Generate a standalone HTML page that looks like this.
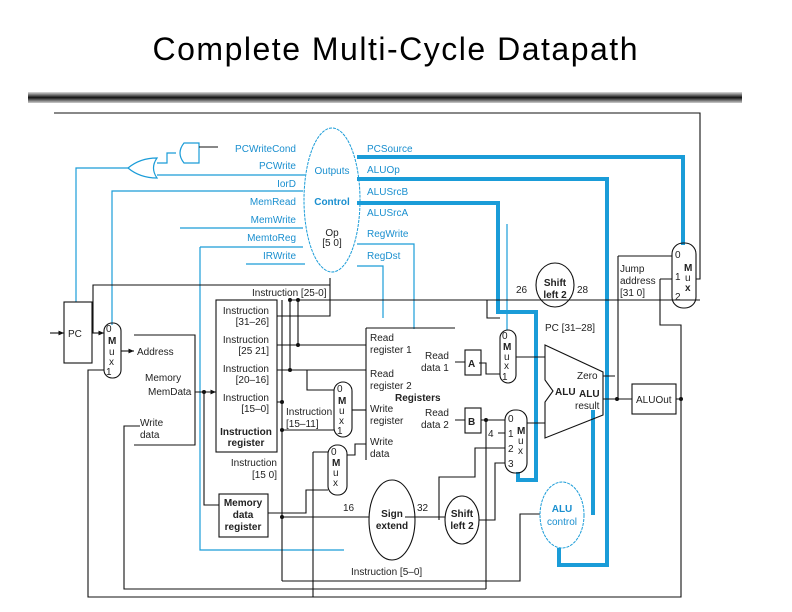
<!DOCTYPE html>
<html><head><meta charset="utf-8"><style>
html,body{margin:0;padding:0;background:#fff;}
svg{display:block;font-family:"Liberation Sans",Arial,sans-serif;}
.b{stroke:#1a9cd8;fill:none;stroke-width:1.2}
.bt{stroke:#1a9cd8;fill:none;stroke-width:4}
.k{stroke:#111;fill:none;stroke-width:1.1}
.bl{fill:#1a8fcf;font-size:10px}
.t{fill:#222;font-size:10px}
.tb{fill:#222;font-size:10px;font-weight:bold}
</style></head><body>
<svg width="792" height="612" viewBox="0 0 792 612" xmlns="http://www.w3.org/2000/svg">
<defs>
<linearGradient id="g" x1="0" y1="0" x2="0" y2="1">
<stop offset="0" stop-color="#ddd"/><stop offset="0.5" stop-color="#111"/><stop offset="1" stop-color="#ccc"/></linearGradient>
<marker id="a" markerWidth="6" markerHeight="6" refX="5" refY="3" orient="auto"><path d="M0,0.8 L5,3 L0,5.2z" fill="#111"/></marker>
</defs>
<text x="395" y="60" text-anchor="middle" font-size="32" textLength="485" fill="#000">Complete Multi-Cycle Datapath</text>
<rect x="28" y="92" width="714" height="11" fill="url(#g)"/>

<path class="k" d="M54,113 H700 V279 H696"/>
<ellipse cx="332" cy="200" rx="28" ry="72" fill="#fff" stroke="#1a9cd8" stroke-width="1" stroke-dasharray="3,1"/>
<text x="332" y="174" text-anchor="middle" class="bl">Outputs</text>
<text x="332" y="205" text-anchor="middle" class="bl" font-weight="bold">Control</text>
<text x="332" y="236" text-anchor="middle" class="t">Op</text>
<text x="332" y="246" text-anchor="middle" class="t">[5 0]</text>
<g class="bl" text-anchor="end">
<text x="296" y="152">PCWriteCond</text><text x="296" y="169">PCWrite</text><text x="296" y="187">IorD</text>
<text x="296" y="205">MemRead</text><text x="296" y="223">MemWrite</text><text x="296" y="241">MemtoReg</text><text x="296" y="259">IRWrite</text>
</g>
<g class="bl"><text x="367" y="152">PCSource</text><text x="367" y="173">ALUOp</text><text x="367" y="195">ALUSrcB</text>
<text x="367" y="216">ALUSrcA</text><text x="367" y="237">RegWrite</text><text x="367" y="259">RegDst</text></g>
<path class="b" d="M184,143 H199 V163 H184 Q176,153 184,143Z"/>
<path class="k" d="M199,147 H218"/>
<path class="b" d="M128,168 Q140,158 157,158 Q150,168 157,178 Q140,178 128,168Z"/>
<path class="b" d="M157,163 H167 V153 H176"/>
<path class="b" d="M157,175 H305 M128,168 H76 V302 M112,325 V191 H303 M180,228 H303 M200,247 H303 M200,247 V550 H344 M246,264 H305"/>
<path class="bt" d="M357,157 H683 V245 M357,179 H607 V565 H559 V548 M357,203 H498 V312 H536 V480 H518 V472 M593,515 V410"/>
<path class="b" d="M507,224 V330 M357,244 H414 V329 M357,266 H383 V318"/>
<rect x="64" y="302" width="28" height="61" fill="#fff" class="k"/>
<text x="68" y="337" class="t">PC</text>
<path class="k" d="M50,333 H64" marker-end="url(#a)"/>
<path class="k" d="M92,333 H104" marker-end="url(#a)"/>
<rect x="104" y="323" width="17" height="55" rx="8" fill="#fff" class="k"/>
<text x="106" y="332" class="t" font-size="8">0</text><text x="108" y="344" class="tb">M</text><text x="109" y="355" class="t">u</text><text x="109" y="365" class="t">x</text><text x="106" y="375" class="t" font-size="8">1</text>
<path class="k" d="M121,351 H134" marker-end="url(#a)"/>
<path class="k" d="M134,335 H195 V445 H134"/>
<text x="137" y="355" class="t">Address</text><text x="145" y="381" class="t">Memory</text><text x="148" y="395" class="t">MemData</text>
<text x="140" y="426" class="t">Write</text><text x="140" y="438" class="t">data</text>
<rect x="216" y="300" width="61" height="152" fill="#fff" class="k"/>
<g class="t" text-anchor="end"><text x="269" y="314">Instruction</text><text x="269" y="325">[31–26]</text>
<text x="269" y="343">Instruction</text><text x="269" y="354">[25 21]</text>
<text x="269" y="372">Instruction</text><text x="269" y="383">[20–16]</text>
<text x="269" y="401">Instruction</text><text x="269" y="412">[15–0]</text></g>
<text x="246" y="435" class="tb" text-anchor="middle">Instruction</text><text x="246" y="446" class="tb" text-anchor="middle">register</text>
<text x="277" y="466" class="t" text-anchor="end">Instruction</text><text x="277" y="478" class="t" text-anchor="end">[15 0]</text>
<rect x="219" y="494" width="49" height="43" fill="#fff" class="k"/>
<text x="243" y="506" class="tb" text-anchor="middle">Memory</text><text x="243" y="518" class="tb" text-anchor="middle">data</text><text x="243" y="530" class="tb" text-anchor="middle">register</text>
<path class="k" d="M204,392 V505 H219 M195,392 H216" marker-end="url(#a)"/>
<circle cx="204" cy="392" r="2" fill="#111"/>
<path class="k" d="M277,316 H330 V278 M93,333 V285 H330 M290,300 H700" />
<text x="252" y="296" class="t">Instruction [25-0]</text>
<path class="k" d="M282,300 V581 M290,300 V370 M298,300 V345 M277,345 H366 M277,370 H366 M307,370 V390 H334 M277,402 H282 M282,430 H334 M268,513 H306 V490 H328 M282,517 H369"/>
<circle cx="282" cy="402" r="2" fill="#111"/><circle cx="282" cy="430" r="2" fill="#111"/><circle cx="282" cy="517" r="2" fill="#111"/>
<circle cx="290" cy="300" r="2" fill="#111"/><circle cx="298" cy="300" r="2" fill="#111"/><circle cx="298" cy="345" r="2" fill="#111"/><circle cx="290" cy="370" r="2" fill="#111"/>
<text x="286" y="415" class="t">Instruction</text><text x="286" y="427" class="t">[15–11]</text>
<rect x="334" y="382" width="18" height="55" rx="9" fill="#fff" class="k"/>
<text x="337" y="392" class="t" font-size="8">0</text><text x="338" y="404" class="tb">M</text><text x="339" y="414" class="t">u</text><text x="339" y="424" class="t">x</text><text x="337" y="434" class="t" font-size="8">1</text>
<path class="k" d="M352,410 H366"/>
<rect x="328" y="445" width="19" height="50" rx="9" fill="#fff" class="k"/>
<text x="331" y="455" class="t" font-size="8">0</text><text x="332" y="466" class="tb">M</text><text x="333" y="476" class="t">u</text><text x="333" y="486" class="t">x</text>
<path class="k" d="M347,455 H355 V444 H366 M313,452 H328 M313,452 V597"/>
<path class="k" d="M366,328 H455 M366,328 V460"/>
<g class="t"><text x="370" y="341">Read</text><text x="370" y="353">register 1</text><text x="370" y="377">Read</text><text x="370" y="389">register 2</text>
<text x="370" y="412">Write</text><text x="370" y="424">register</text><text x="370" y="445">Write</text><text x="370" y="457">data</text>
<text x="425" y="359">Read</text><text x="421" y="371">data 1</text><text x="425" y="416">Read</text><text x="421" y="428">data 2</text></g>
<text x="395" y="401" class="tb">Registers</text>
<rect x="465" y="350" width="16" height="25" fill="#fff" class="k"/><text x="468" y="367" class="tb">A</text>
<rect x="465" y="408" width="16" height="25" fill="#fff" class="k"/><text x="468" y="425" class="tb">B</text>
<path class="k" d="M455,362 H465 M455,420 H465 M481,420 H505 M486,420 V589 M479,363 H486 V374 H500 M487,300 V318 H500 M516,357 H545 M527,423 H545"/>
<circle cx="486" cy="420" r="2" fill="#111"/>
<rect x="500" y="330" width="16" height="53" rx="8" fill="#fff" class="k"/>
<text x="502" y="339" class="t" font-size="8">0</text><text x="503" y="350" class="tb">M</text><text x="504" y="360" class="t">u</text><text x="504" y="369" class="t">x</text><text x="502" y="380" class="t" font-size="8">1</text>
<rect x="505" y="410" width="22" height="63" rx="10" fill="#fff" class="k"/>
<g class="t"><text x="508" y="422">0</text><text x="508" y="437">1</text><text x="508" y="452">2</text><text x="508" y="467">3</text><text x="488" y="437">4</text></g>
<text x="517" y="434" class="tb">M</text><text x="518" y="444" class="t">u</text><text x="518" y="454" class="t">x</text>
<path class="k" d="M498,433 H505 M439,520 V477 H475 V448 H505 M479,520 H495 V463 H505 M405,517 H445"/>
<path class="k" d="M282,581 H520 V514 H540" />
<path d="M545,345 L603,372 L603,415 L545,438 L545,402 L553,391 L545,380Z" fill="#fff" class="k"/>
<text x="555" y="395" class="tb">ALU</text><text x="577" y="379" class="t">Zero</text><text x="579" y="397" class="tb">ALU</text><text x="575" y="409" class="t">result</text>
<path class="k" d="M603,376 H615 M603,399 H632 M676,399 H681 V597 H88 V370 H104"/>
<path class="k" d="M140,426 H124 V589 H486"/>
<circle cx="617" cy="399" r="2" fill="#111"/><circle cx="681" cy="399" r="2" fill="#111"/>
<rect x="632" y="384" width="44" height="30" fill="#fff" class="k"/><text x="636" y="403" class="t">ALUOut</text>
<ellipse cx="555" cy="285" rx="19" ry="22" fill="#fff" class="k"/>
<text x="555" y="286" class="tb" text-anchor="middle">Shift</text><text x="555" y="298" class="tb" text-anchor="middle">left 2</text>
<text x="516" y="293" class="t">26</text><text x="577" y="293" class="t">28</text><text x="545" y="331" class="t">PC [31–28]</text>
<path class="k" d="M618,256 H672 M618,256 V399 M660,279 V325 H681 V399 M660,279 H672 M574,300 H672"/>
<text x="620" y="272" class="t">Jump</text><text x="620" y="284" class="t">address</text><text x="620" y="296" class="t">[31 0]</text>
<rect x="672" y="243" width="24" height="65" rx="11" fill="#fff" class="k"/>
<text x="675" y="258" class="t">0</text><text x="675" y="280" class="t">1</text><text x="675" y="300" class="t">2</text>
<text x="684" y="271" class="tb">M</text><text x="685" y="281" class="t">u</text><text x="685" y="291" class="tb">x</text>
<ellipse cx="392" cy="520" rx="23" ry="40" fill="#fff" class="k"/>
<text x="392" y="517" class="tb" text-anchor="middle">Sign</text><text x="392" y="529" class="tb" text-anchor="middle">extend</text>
<text x="343" y="511" class="t">16</text><text x="417" y="511" class="t">32</text>
<ellipse cx="462" cy="520" rx="17" ry="24" fill="#fff" class="k"/>
<text x="462" y="517" class="tb" text-anchor="middle">Shift</text><text x="462" y="529" class="tb" text-anchor="middle">left 2</text>
<ellipse cx="562" cy="515" rx="22" ry="33" fill="#fff" stroke="#1a9cd8" stroke-dasharray="3,1"/>
<text x="562" y="512" class="bl" font-weight="bold" text-anchor="middle">ALU</text><text x="562" y="525" class="bl" text-anchor="middle">control</text>
<text x="351" y="575" class="t">Instruction [5–0]</text>
</svg>
</body></html>
